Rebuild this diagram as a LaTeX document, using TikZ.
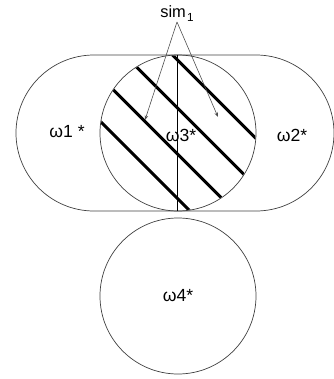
\documentclass[tikz,border=0pt]{standalone}
\usepackage{fontspec}
\setmainfont{Liberation Sans}
\usetikzlibrary{arrows.meta}

\tikzset{
  region/.style={circle, draw=black!75, line width=0.6pt, inner sep=0pt, minimum size=4.68cm},
  lbl/.style={font=\fontsize{15}{18}\selectfont, inner sep=0pt},
  hatch/.style={line width=2.5pt, black},
  pointer/.style={draw=black!70, line width=0.5pt, -{Stealth[length=4pt,width=3pt]}}
}

\begin{document}
\begin{tikzpicture}[x=0.03cm, y=-0.03cm]

\useasboundingbox (0,0) rectangle (334,379);

\def\cx{178}
\def\cy{133}
\def\rad{78}

% --- outer stadium (omega1 / omega2) ---
\draw[black!75, line width=0.6pt] (94,55) -- (256,55)
  arc[start angle=-90, end angle=90, radius=\rad] -- (94,211)
  arc[start angle=90, end angle=270, radius=\rad] -- cycle;

% --- middle circle (omega3) with hatching ---
\node[region] (w3c) at (\cx,\cy) {};
\begin{scope}
  \clip (\cx,\cy) circle[radius=77.5];
  \foreach \off in {-66,-21.5,24.5,72.5}
    \draw[hatch] (\cx+\off/2-110,\cy-\off/2-110) -- (\cx+\off/2+110,\cy-\off/2+110);
\end{scope}

% split line
\draw[black, line width=0.6pt] (177,55) -- (177,211);

% --- bottom circle (omega4) ---
\node[region, lbl] (w4) at (\cx,296) {ω4*};

% labels
\node[lbl] (w1) at (67,132) {ω1 *};
\node[lbl] (w3) at (181,135) {ω3*};
\node[lbl] (w2) at (292,135) {ω2*};

% --- sim_1 pointers ---
\node[font=\fontsize{14}{16}\selectfont, inner sep=0pt, anchor=south] (sim) at (177,22)
  {sim\kern1pt\raisebox{-4pt}{\fontsize{10}{10}\selectfont 1}};
\coordinate (p1) at (145,120);
\coordinate (p2) at (218,117);
\draw[pointer] (sim.south) -- (p1);
\draw[pointer] (sim.south) -- (p2);

\end{tikzpicture}
\end{document}
